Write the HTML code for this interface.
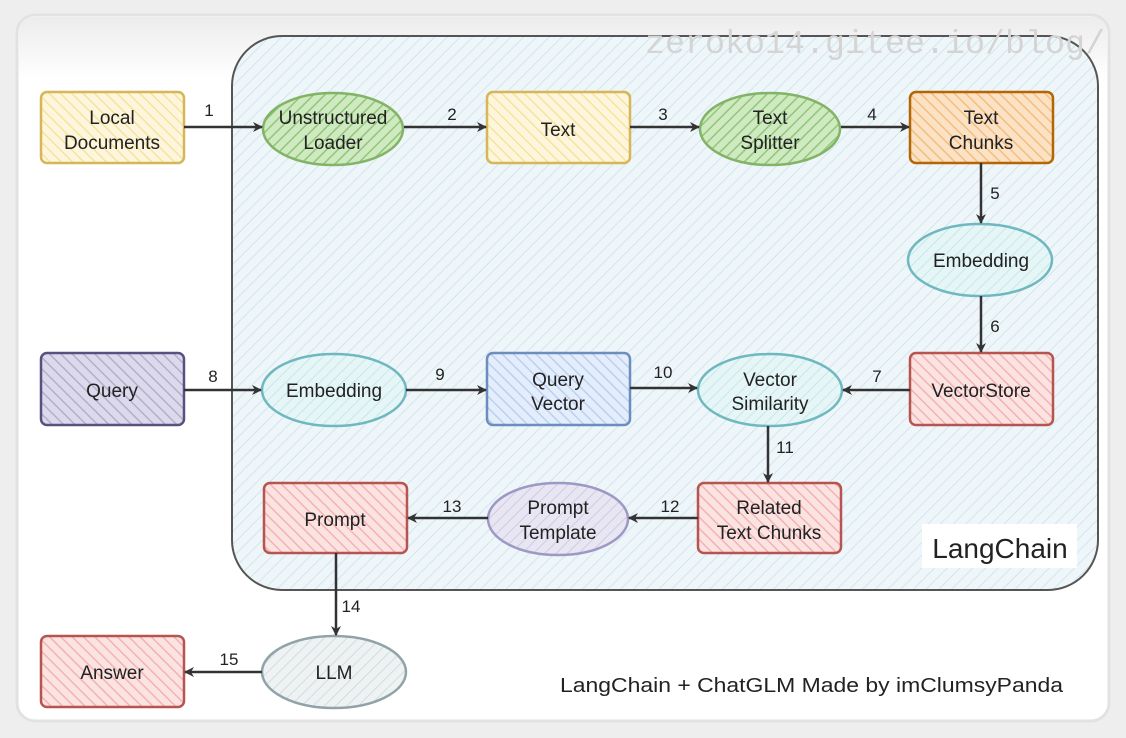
<!DOCTYPE html>
<html><head><meta charset="utf-8"><style>
html,body{margin:0;padding:0;background:#eeeeee;}
svg{display:block}
text{font-family:"Liberation Sans",sans-serif;fill:#222}
</style></head><body>
<svg width="1126" height="738" viewBox="0 0 1126 738" xmlns="http://www.w3.org/2000/svg">
<defs>
<linearGradient id="tg" x1="0" y1="0" x2="0" y2="1"><stop offset="0" stop-color="#ececec"/><stop offset="1" stop-color="#ffffff"/></linearGradient>
<pattern id="hb" width="9" height="9" patternUnits="userSpaceOnUse" patternTransform="rotate(45)"><rect width="9" height="9" fill="#eef6f9"/><line x1="0" y1="0" x2="0" y2="9" stroke="#d2e6ee" stroke-width="2"/></pattern>
<pattern id="hy" width="8" height="8" patternUnits="userSpaceOnUse" patternTransform="rotate(-45)"><rect width="8" height="8" fill="#fdf6dc"/><line x1="0" y1="0" x2="0" y2="8" stroke="#f6e3a0" stroke-width="3"/></pattern>
<pattern id="hg" width="8" height="8" patternUnits="userSpaceOnUse" patternTransform="rotate(45)"><rect width="8" height="8" fill="#cfe9c0"/><line x1="0" y1="0" x2="0" y2="8" stroke="#8fc77a" stroke-width="3"/></pattern>
<pattern id="ho" width="8" height="8" patternUnits="userSpaceOnUse" patternTransform="rotate(-45)"><rect width="8" height="8" fill="#fbe2c4"/><line x1="0" y1="0" x2="0" y2="8" stroke="#f5bd80" stroke-width="3"/></pattern>
<pattern id="hr" width="8" height="8" patternUnits="userSpaceOnUse" patternTransform="rotate(-45)"><rect width="8" height="8" fill="#fbe3e2"/><line x1="0" y1="0" x2="0" y2="8" stroke="#f2b3b1" stroke-width="3"/></pattern>
<pattern id="hp" width="8" height="8" patternUnits="userSpaceOnUse" patternTransform="rotate(-45)"><rect width="8" height="8" fill="#dcdaea"/><line x1="0" y1="0" x2="0" y2="8" stroke="#b3aed0" stroke-width="3"/></pattern>
<pattern id="hu" width="8" height="8" patternUnits="userSpaceOnUse" patternTransform="rotate(-45)"><rect width="8" height="8" fill="#e3edfb"/><line x1="0" y1="0" x2="0" y2="8" stroke="#bcd0ef" stroke-width="3"/></pattern>
<pattern id="ht" width="8" height="8" patternUnits="userSpaceOnUse" patternTransform="rotate(45)"><rect width="8" height="8" fill="#e6f5f6"/><line x1="0" y1="0" x2="0" y2="8" stroke="#c7e8ea" stroke-width="2"/></pattern>
<pattern id="hl" width="8" height="8" patternUnits="userSpaceOnUse" patternTransform="rotate(45)"><rect width="8" height="8" fill="#eef2f3"/><line x1="0" y1="0" x2="0" y2="8" stroke="#d3dcdf" stroke-width="2"/></pattern>
<pattern id="hv" width="8" height="8" patternUnits="userSpaceOnUse" patternTransform="rotate(45)"><rect width="8" height="8" fill="#e8e6f2"/><line x1="0" y1="0" x2="0" y2="8" stroke="#cfcbe3" stroke-width="2"/></pattern>
<marker id="a" viewBox="0 0 10 10" refX="9" refY="5" markerWidth="10" markerHeight="10" orient="auto-start-reverse" markerUnits="userSpaceOnUse"><path d="M0,0 L10,5 L0,10 L3,5 Z" fill="#333"/></marker>
</defs>
<rect x="0" y="0" width="1126" height="738" fill="#eeeeee"/>
<rect x="17" y="15" width="1092" height="706" rx="18" fill="#ffffff" stroke="#e2e2e2" stroke-width="3"/>
<path d="M35,17 H1091 Q1107,17 1107,33 V80 H19 V33 Q19,17 35,17 Z" fill="url(#tg)"/>
<rect x="232" y="36" width="866" height="554" rx="50" fill="url(#hb)" stroke="#555" stroke-width="2"/>
<text x="645" y="53" font-size="33" textLength="460" lengthAdjust="spacingAndGlyphs" style="fill:#d4d4d4;font-family:'Liberation Mono',monospace">zeroko14.gitee.io/blog/</text>

<g stroke-width="2.5">
<rect x="41" y="92" width="143" height="71" rx="6" fill="url(#hy)" stroke="#d6b656"/>
<ellipse cx="333" cy="129" rx="70" ry="36" fill="url(#hg)" stroke="#82b366"/>
<rect x="487" y="92" width="143" height="71" rx="6" fill="url(#hy)" stroke="#d6b656"/>
<ellipse cx="770" cy="129" rx="70" ry="36" fill="url(#hg)" stroke="#82b366"/>
<rect x="910" y="92" width="143" height="71" rx="6" fill="url(#ho)" stroke="#b46504"/>
<ellipse cx="980" cy="260" rx="72" ry="36" fill="url(#ht)" stroke="#6fb8c0"/>
<rect x="910" y="353" width="143" height="72" rx="6" fill="url(#hr)" stroke="#b85450"/>
<rect x="41" y="353" width="143" height="72" rx="6" fill="url(#hp)" stroke="#56517e"/>
<ellipse cx="334" cy="390" rx="72" ry="36" fill="url(#ht)" stroke="#6fb8c0"/>
<rect x="487" y="353" width="143" height="72" rx="6" fill="url(#hu)" stroke="#6c8ebf"/>
<ellipse cx="770" cy="390" rx="72" ry="36" fill="url(#ht)" stroke="#6fb8c0"/>
<rect x="698" y="483" width="143" height="70" rx="6" fill="url(#hr)" stroke="#b85450"/>
<ellipse cx="558" cy="519" rx="70" ry="36" fill="url(#hv)" stroke="#9d98c4"/>
<rect x="264" y="483" width="143" height="70" rx="6" fill="url(#hr)" stroke="#b85450"/>
<ellipse cx="334" cy="672" rx="72" ry="36" fill="url(#hl)" stroke="#8fa3a8"/>
<rect x="41" y="636" width="143" height="71" rx="6" fill="url(#hr)" stroke="#b85450"/>
</g>

<g stroke="#333" stroke-width="2.5" fill="none" marker-end="url(#a)">
<line x1="184" y1="127" x2="262" y2="127"/>
<line x1="404" y1="127" x2="486" y2="127"/>
<line x1="630" y1="127" x2="699" y2="127"/>
<line x1="841" y1="127" x2="909" y2="127"/>
<line x1="981" y1="163" x2="981" y2="223"/>
<line x1="981" y1="296" x2="981" y2="352"/>
<line x1="910" y1="390" x2="843" y2="390"/>
<line x1="184" y1="390" x2="261" y2="390"/>
<line x1="406" y1="390" x2="486" y2="390"/>
<line x1="630" y1="388" x2="697" y2="388"/>
<line x1="768" y1="426" x2="768" y2="482"/>
<line x1="698" y1="518" x2="629" y2="518"/>
<line x1="488" y1="518" x2="408" y2="518"/>
<line x1="336" y1="553" x2="336" y2="635"/>
<line x1="262" y1="672" x2="185" y2="672"/>
</g>

<g font-size="19" text-anchor="middle">
<text x="112" y="124">Local</text><text x="112" y="149">Documents</text>
<text x="333" y="124">Unstructured</text><text x="333" y="149">Loader</text>
<text x="558" y="136">Text</text>
<text x="770" y="124">Text</text><text x="770" y="149">Splitter</text>
<text x="981" y="124">Text</text><text x="981" y="149">Chunks</text>
<text x="981" y="267">Embedding</text>
<text x="981" y="397">VectorStore</text>
<text x="112" y="397">Query</text>
<text x="334" y="397">Embedding</text>
<text x="558" y="386">Query</text><text x="558" y="410">Vector</text>
<text x="770" y="386">Vector</text><text x="770" y="410">Similarity</text>
<text x="769" y="514">Related</text><text x="769" y="539">Text Chunks</text>
<text x="558" y="514">Prompt</text><text x="558" y="539">Template</text>
<text x="335" y="526">Prompt</text>
<text x="334" y="679">LLM</text>
<text x="112" y="679">Answer</text>
</g>
<g font-size="17" text-anchor="middle">
<text x="209" y="116">1</text><text x="452" y="120">2</text><text x="663" y="120">3</text><text x="872" y="120">4</text>
<text x="995" y="199">5</text><text x="995" y="332">6</text><text x="877" y="382">7</text>
<text x="213" y="382">8</text><text x="440" y="380">9</text><text x="663" y="378">10</text>
<text x="785" y="453">11</text><text x="670" y="512">12</text><text x="452" y="512">13</text>
<text x="351" y="612">14</text><text x="229" y="665">15</text>
</g>
<rect x="922" y="524" width="155" height="44" fill="#ffffff"/>
<text x="1000" y="558" font-size="28" text-anchor="middle">LangChain</text>
<text x="560" y="692" font-size="20" textLength="503" lengthAdjust="spacingAndGlyphs">LangChain + ChatGLM Made by imClumsyPanda</text>
</svg>
</body></html>
